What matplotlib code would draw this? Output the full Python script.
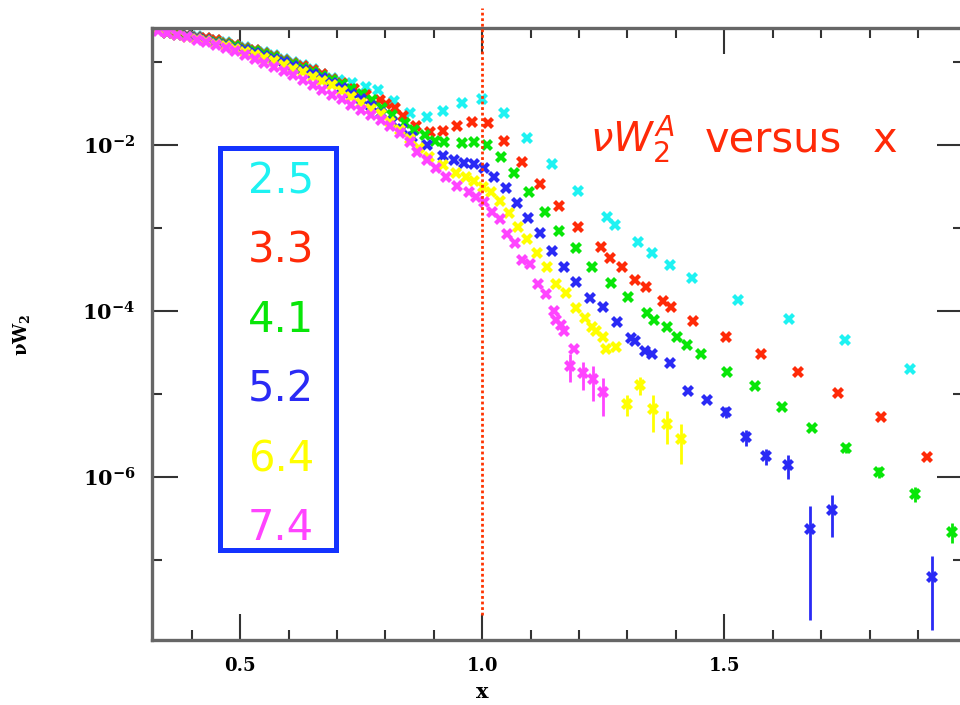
import matplotlib
matplotlib.use("Agg")
import matplotlib.pyplot as plt
from matplotlib.patches import Rectangle
from matplotlib.ticker import FixedLocator, FixedFormatter, NullFormatter
import numpy as np

# values as log10(nu W2)
x_low = [0.33, 0.35, 0.37, 0.39, 0.41, 0.43, 0.45, 0.47, 0.49, 0.51,
	0.53, 0.55, 0.57, 0.59, 0.61, 0.63, 0.65, 0.67, 0.69]

cyan_low = [-0.62, -0.635, -0.65, -0.67, -0.69, -0.71, -0.735, -0.76, -0.79, -0.82,
	-0.85, -0.88, -0.92, -0.96, -1.00, -1.04, -1.09, -1.14, -1.19]
red_low = [-0.62, -0.64, -0.655, -0.675, -0.695, -0.715, -0.74, -0.765, -0.795, -0.825,
	-0.855, -0.89, -0.93, -0.97, -1.01, -1.05, -1.10, -1.15, -1.20]
green_low = [-0.62, -0.645, -0.665, -0.685, -0.705, -0.73, -0.755, -0.78, -0.81, -0.84,
	-0.87, -0.905, -0.945, -0.985, -1.025, -1.07, -1.12, -1.17, -1.22]
blue_low = [-0.62, -0.65, -0.67, -0.69, -0.715, -0.74, -0.765, -0.795, -0.825, -0.855,
	-0.89, -0.925, -0.965, -1.005, -1.05, -1.095, -1.145, -1.195, -1.25]
yellow_low = [-0.61, -0.65, -0.675, -0.70, -0.725, -0.75, -0.78, -0.81, -0.84, -0.875,
	-0.91, -0.95, -0.99, -1.03, -1.08, -1.125, -1.175, -1.23, -1.28]
pink_low = [-0.63, -0.65, -0.67, -0.70, -0.73, -0.76, -0.79, -0.83, -0.87, -0.91,
	-0.96, -1.01, -1.06, -1.11, -1.16, -1.22, -1.28, -1.34, -1.40]

cyan_x = [0.705, 0.732, 0.759, 0.784, 0.817, 0.850, 0.885, 0.920, 0.959, 1.000,
	1.045, 1.093, 1.144, 1.198, 1.257, 1.274, 1.321, 1.350, 1.387, 1.434,
	1.529, 1.634, 1.749, 1.883]
cyan_lg = [-1.22, -1.25, -1.30, -1.34, -1.47, -1.61, -1.66, -1.59, -1.49, -1.45,
	-1.61, -1.92, -2.23, -2.55, -2.87, -2.96, -3.17, -3.30, -3.45, -3.60,
	-3.87, -4.10, -4.35, -4.70]

red_x = [0.71, 0.735, 0.761, 0.788, 0.802, 0.819, 0.837, 0.864, 0.893, 0.920,
	0.948, 0.979, 1.012, 1.045, 1.082, 1.120, 1.159, 1.198, 1.245, 1.264,
	1.289, 1.315, 1.338, 1.373, 1.390, 1.435, 1.503, 1.575, 1.652, 1.734,
	1.823, 1.918]
red_lg = [-1.25, -1.33, -1.40, -1.46, -1.51, -1.555, -1.65, -1.77, -1.84, -1.83,
	-1.77, -1.72, -1.73, -1.95, -2.20, -2.47, -2.73, -2.99, -3.23, -3.36,
	-3.47, -3.63, -3.71, -3.88, -3.95, -4.12, -4.31, -4.52, -4.73, -4.99,
	-5.28, -5.76]

green_x = [0.71, 0.73, 0.752, 0.773, 0.794, 0.814, 0.841, 0.859, 0.882, 0.903,
	0.922, 0.959, 0.984, 1.010, 1.039, 1.066, 1.097, 1.130, 1.159, 1.194,
	1.227, 1.266, 1.301, 1.340, 1.355, 1.381, 1.402, 1.423, 1.452, 1.505,
	1.563, 1.620, 1.682]
green_lg = [-1.27, -1.32, -1.39, -1.46, -1.55, -1.64, -1.735, -1.82, -1.88, -1.95,
	-1.96, -1.98, -1.96, -2.00, -2.14, -2.34, -2.57, -2.81, -3.04, -3.24,
	-3.47, -3.66, -3.83, -4.02, -4.11, -4.19, -4.31, -4.41, -4.52, -4.73,
	-4.90, -5.16, -5.41]
green_ex = [1.751, 1.819, 1.893, 1.971]
green_elg = [-5.65, -5.94, -6.20, -6.66]
green_rel = [0.12, 0.15, 0.21, 0.26]

blue_x = [0.71, 0.73, 0.75, 0.77, 0.79, 0.814, 0.835, 0.856, 0.887, 0.918,
	0.942, 0.963, 0.984, 1.004, 1.025, 1.049, 1.072, 1.095, 1.120, 1.144,
	1.169, 1.194, 1.223, 1.249, 1.278, 1.307, 1.315, 1.336, 1.351, 1.388,
	1.425, 1.464]
blue_lg = [-1.31, -1.38, -1.45, -1.53, -1.61, -1.72, -1.81, -1.90, -2.00, -2.13,
	-2.18, -2.22, -2.23, -2.28, -2.39, -2.52, -2.70, -2.88, -3.06, -3.28,
	-3.47, -3.65, -3.84, -3.95, -4.13, -4.33, -4.36, -4.48, -4.52, -4.63,
	-4.96, -5.07]
blue_ex = [1.503, 1.544, 1.586, 1.631, 1.676, 1.722, 1.928]
blue_elg = [-5.22, -5.52, -5.75, -5.86, -6.63, -6.40, -7.20]
blue_rel = [0.15, 0.22, 0.22, 0.32, 0.92, 0.53, 0.77]

yellow_x = [0.71, 0.73, 0.75, 0.77, 0.79, 0.81, 0.83, 0.85, 0.869, 0.891,
	0.918, 0.946, 0.967, 0.984, 1.002, 1.019, 1.037, 1.056, 1.074, 1.093,
	1.113, 1.134, 1.153, 1.173, 1.193, 1.212, 1.227, 1.235, 1.249, 1.256,
	1.276]
yellow_lg = [-1.35, -1.42, -1.49, -1.57, -1.63, -1.72, -1.82, -1.93, -2.03, -2.145,
	-2.24, -2.34, -2.39, -2.43, -2.50, -2.57, -2.68, -2.82, -2.99, -3.13,
	-3.30, -3.47, -3.68, -3.78, -3.96, -4.08, -4.19, -4.24, -4.31, -4.46,
	-4.43]
yellow_ex = [1.299, 1.326, 1.353, 1.381, 1.410]
yellow_elg = [-5.12, -4.89, -5.18, -5.36, -5.54]
yellow_rel = [0.29, 0.25, 0.47, 0.43, 0.50]

pink_x = [0.71, 0.73, 0.75, 0.77, 0.79, 0.81, 0.83, 0.85, 0.866, 0.885,
	0.905, 0.926, 0.948, 0.973, 0.988, 1.004, 1.021, 1.037, 1.052, 1.068,
	1.082, 1.099, 1.115, 1.132, 1.148, 1.153, 1.163, 1.169, 1.190]
pink_lg = [-1.45, -1.52, -1.58, -1.64, -1.70, -1.77, -1.86, -1.96, -2.08, -2.18,
	-2.28, -2.39, -2.49, -2.57, -2.63, -2.69, -2.81, -2.89, -3.07, -3.18,
	-3.39, -3.43, -3.67, -3.79, -4.00, -4.11, -4.17, -4.24, -4.46]
pink_ex = [1.181, 1.208, 1.229, 1.249]
pink_elg = [-4.66, -4.75, -4.82, -4.98]
pink_rel = [0.37, 0.37, 0.45, 0.48]

labels = ["2.5", "3.3", "4.1", "5.2", "6.4", "7.4"]
colors = ["#1ef2f2", "#ff2a08", "#08e608", "#2a2af5", "#ffff00", "#ff44ff"]

x_ticks = [0.5, 1.0, 1.5]
x_ticklabels = ["0.5", "1.0", "1.5"]
y_ticks = [1e-8, 1e-6, 1e-4, 1e-2, 1.0]
y_ticklabels = ["", r"$\mathbf{10^{-6}}$", r"$\mathbf{10^{-4}}$", r"$\mathbf{10^{-2}}$", ""]

plt.rcParams["mathtext.fontset"] = "dejavuserif"

W, H = 960, 705

def fx(px):
	return px / W

def fy(py):
	return 1 - py / H

def draw_series(ax, x, lg, color, ex=None, elg=None, rel=None):
	ax.plot(x, 10 ** np.array(lg), ls="none", marker="X", ms=8, mew=0, color=color)
	if ex is not None:
		ey = 10 ** np.array(elg)
		ax.errorbar(ex, ey, yerr=np.array(rel) * ey, fmt="X", ms=8, mew=0,
			color=color, ecolor=color, elinewidth=2, capsize=0)


fig = plt.figure(figsize=(9.6, 7.05), dpi=100)
ax = fig.add_axes([fx(152), fy(640), fx(963) - fx(152), fy(28) - fy(640)])

draw_series(ax, x_low + cyan_x, cyan_low + cyan_lg, colors[0])
draw_series(ax, x_low + red_x, red_low + red_lg, colors[1])
draw_series(ax, x_low + green_x, green_low + green_lg, colors[2], green_ex, green_elg, green_rel)
draw_series(ax, x_low + blue_x, blue_low + blue_lg, colors[3], blue_ex, blue_elg, blue_rel)
draw_series(ax, x_low + yellow_x, yellow_low + yellow_lg, colors[4], yellow_ex, yellow_elg, yellow_rel)
draw_series(ax, x_low + pink_x, pink_low + pink_lg, colors[5], pink_ex, pink_elg, pink_rel)

ax.set_yscale("log")
ax.set_xlim(0.318, 1.993)
ax.set_ylim(10 ** -7.964, 10 ** -0.59)

ax.axvline(1.0, ymin=0.041, ymax=1.032, clip_on=False, color="#ff3300",
	lw=2, ls=(0, (1, 1)), zorder=5)

ax.xaxis.set_major_locator(FixedLocator(x_ticks))
ax.xaxis.set_major_formatter(FixedFormatter(x_ticklabels))
ax.xaxis.set_minor_locator(FixedLocator([0.4, 0.6, 0.7, 0.8, 0.9, 1.1, 1.2, 1.3, 1.4, 1.6, 1.7, 1.8, 1.9]))
ax.yaxis.set_major_locator(FixedLocator(y_ticks))
ax.yaxis.set_major_formatter(FixedFormatter(y_ticklabels))
ax.yaxis.set_minor_locator(FixedLocator([1e-7, 1e-5, 1e-3, 1e-1]))
ax.yaxis.set_minor_formatter(NullFormatter())

ax.tick_params(which="both", direction="in", top=True, right=True, width=1.5, color="#333333")
ax.tick_params(which="major", length=19)
ax.tick_params(which="minor", length=7)
ax.tick_params(axis="x", pad=12, labelsize=13)
ax.tick_params(axis="y", pad=12, labelsize=15)
for lab in ax.get_xticklabels():
	lab.set_fontfamily("DejaVu Serif")
	lab.set_fontweight("bold")
for sp in ax.spines.values():
	sp.set_color("#666666")
	sp.set_linewidth(2.4)

fig.text(fx(482), fy(692), "x", family="DejaVu Serif", weight="bold", fontsize=15,
	ha="center", va="center")
fig.text(fx(22), fy(335), r"$\mathbf{\nu W_2}$", fontsize=13, rotation=90,
	ha="center", va="center")

# legend box with the coloured numbers
fig.add_artist(Rectangle((fx(219.5), fy(549.5)), fx(335.5) - fx(219.5), fy(147.5) - fy(549.5),
	transform=fig.transFigure, fill=False, lw=3.6, ec="#1433ff"))
for i in range(len(labels)):
	fig.text(fx(281), fy(193 + 69.5 * i), labels[i], fontsize=30, color=colors[i],
		ha="center", va="baseline", family="DejaVu Sans")

fig.text(fx(590), fy(152), r"$\nu W_2^A$", fontsize=29, color="#ff2a08",
	va="baseline", math_fontfamily="dejavusans")
fig.text(fx(705), fy(152), "versus", fontsize=30, color="#ff2a08", va="baseline")
fig.text(fx(873), fy(152), "x", fontsize=30, color="#ff2a08", va="baseline")

fig.savefig("out.png", dpi=100)
